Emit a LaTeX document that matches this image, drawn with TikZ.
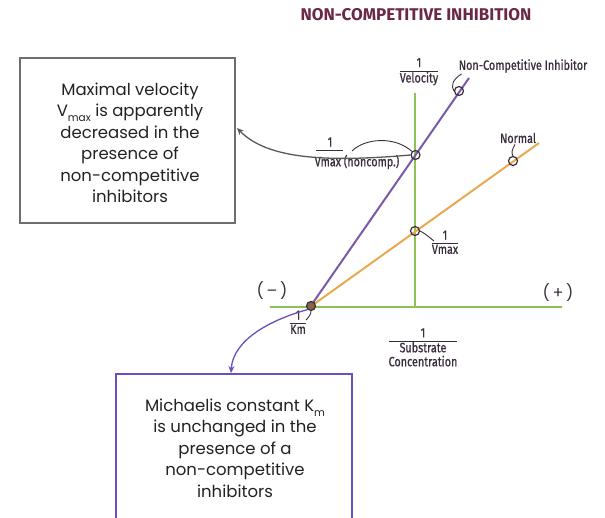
\documentclass[tikz,border=0pt]{standalone}
\usepackage{fontspec}
\setmainfont{Poppins}
\newfontfamily\hand[FakeStretch=0.8,FakeBold=0.8]{Fira Sans}
\newfontfamily\titlefont{Fira Sans}
\usetikzlibrary{arrows.meta}
\definecolor{gline}{HTML}{8DC255}
\definecolor{pline}{HTML}{7A5AA6}
\definecolor{oline}{HTML}{E9A94E}
\definecolor{ttl}{HTML}{6B2846}
\definecolor{pbox}{HTML}{6B4FBF}
\definecolor{gbox}{HTML}{6E6E6E}
\definecolor{ink}{HTML}{3A2E3E}
\definecolor{txt}{HTML}{222222}
\newcommand\sbs[1]{\raisebox{-5pt}{\fontsize{10.5}{10.5}\selectfont #1}}
\newcommand\frc[2]{\renewcommand\arraystretch{0.85}\begin{tabular}{@{}c@{}}#1\\[0pt]\hline\noalign{\vskip1pt}#2\end{tabular}}
\begin{document}
\begin{tikzpicture}[x=1pt,y=-1pt,
  axis/.style={gline, line width=2.2pt},
  plot/.style={line width=2pt},
  dot/.style={circle, draw=ink, line width=1.2pt, minimum size=9pt, inner sep=0pt},
  lbl/.style={font=\hand\fontsize{13.5}{13.5}\selectfont, text=ink, inner sep=0pt},
  ptr/.style={ink, line width=0.9pt},
  boxtxt/.style={align=center, text=txt, font=\fontsize{16.5}{21.5}\selectfont, inner sep=0pt},
  callout/.style={line width=1.3pt, -{Stealth[length=7pt,width=6pt]}}
]
\useasboundingbox (0,0) rectangle (605,517);
% title
\node[font=\titlefont\bfseries\fontsize{17}{17}\selectfont, text=ttl] (title) at (416,15) {NON-COMPETITIVE INHIBITION};
% axes
\coordinate (ytop) at (415,93);
\coordinate (ybot) at (415,307);
\coordinate (xl) at (270,307);
\coordinate (xr) at (562,307);
\draw[axis] (ytop) -- (ybot);
\draw[axis] (xl) -- (xr);
% lines
\coordinate (O) at (310,307);
\coordinate (ptop) at (469,78);
\coordinate (otop) at (539,143);
\draw[plot, oline] (O) -- (otop);
\draw[plot, pline] (O) -- (ptop);
% dots
\node[dot] (dnc) at (459,91) {};
\node[dot] (dvnc) at (415.5,155) {};
\node[dot] (dn) at (513,161) {};
\node[dot] (dv) at (415,231) {};
\node[dot, fill=ink!55!oline] (dk) at (311,306) {};
% labels
\node[lbl] (lvel) at (419,72) {\frc{1}{Velocity}};
\node[lbl] (lnci) at (523,66) {Non-Competitive Inhibitor};
\node[lbl] (lnorm) at (518,138) {Normal};
\node[lbl] (lvncone) at (330,142) {1};
\node[lbl] (lvnc) at (357,162) {Vmax (noncomp.)};
\draw[ink, line width=0.8pt] (316,150) -- (343,150);
\node[lbl] (lvmax) at (445,244) {\frc{1}{Vmax}};
\node[lbl] (lkm) at (298,324) {\frc{1}{Km}};
\node[lbl] (lsub) at (423,349) {\frc{1}{Substrate\\Concentration}};
\node[font=\fontsize{16}{16}\selectfont, text=ink] (minus) at (272,291) {(\,--\,)};
\node[font=\fontsize{16}{16}\selectfont, text=ink] (plus) at (558,293) {(\,+\,)};
% pointers
\draw[ptr] (lnci.south west) ++(3,1) .. controls (452,80) and (451,86) .. (dnc.west);
\draw[ptr] (lnorm.south) ++(-3,1) .. controls (512,150) and (511,153) .. (dn.north);
\draw[ptr] (dv.east) .. controls (426,234) and (430,238) .. (434,241);
\draw[ptr] (dk.south) .. controls (311,314) and (309,317) .. (306,320);
\draw[ptr] (352,151) .. controls (365,138) and (395,136) .. (dvnc.north west);
% boxes
\node[draw=gbox, line width=1.4pt, minimum width=215pt, minimum height=165pt, inner sep=0pt] (boxA) at (127.5,140.5) {};
\node[boxtxt] (txtA) at (130,143) {Maximal velocity\\V\sbs{max} is apparently\\decreased in the\\presence of\\non-competitive\\inhibitors};
\node[draw=pbox, line width=1.8pt, minimum width=236pt, minimum height=160pt, inner sep=0pt] (boxB) at (234,454) {};
\node[boxtxt] (txtB) at (235,448) {Michaelis constant K\sbs{m}\\is unchanged in the\\presence of a\\non-competitive\\inhibitors};
% callouts
\coordinate (tipA) at (237,128);
\coordinate (tipB) at (231,373);
\draw[callout, gbox!80!black] (dvnc.west) .. controls (330,162) and (268,160) .. (tipA);
\draw[callout, pbox] (dk.south west) .. controls (270,320) and (233,340) .. (tipB);
\end{tikzpicture}
\end{document}
